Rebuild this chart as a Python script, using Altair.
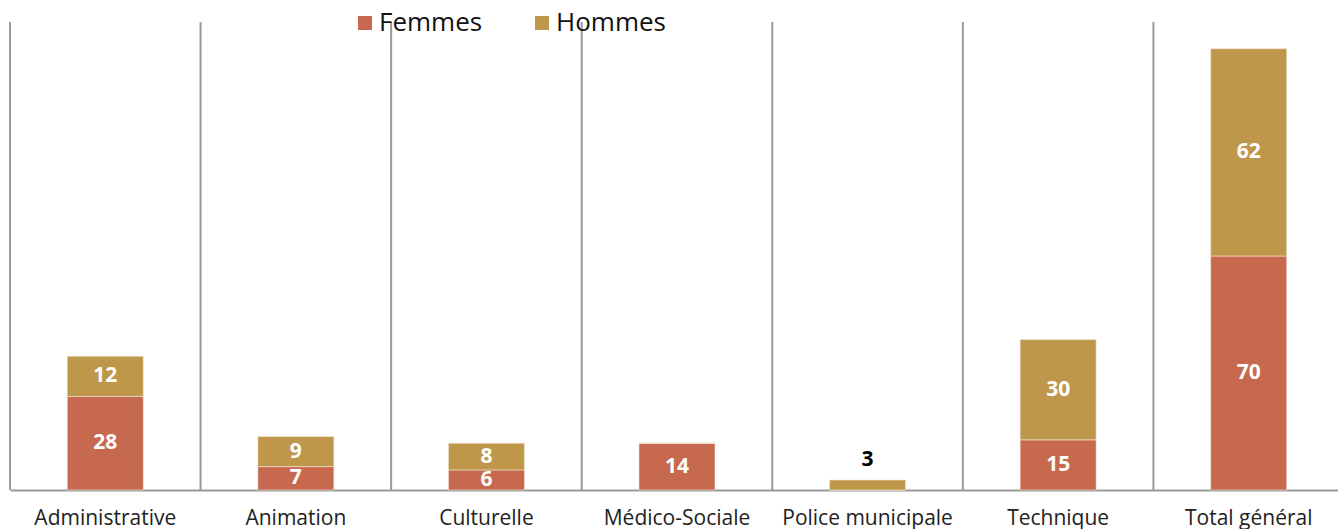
import altair as alt
import pandas as pd

categories = ["Administrative", "Animation", "Culturelle", "Médico-Sociale",
              "Police municipale", "Technique", "Total général"]
femmes = [28, 7, 6, 14, 0, 15, 70]
hommes = [12, 9, 8, 0, 3, 30, 62]
series = ["Femmes", "Hommes"]
colors = ["#C6694F", "#BF974B"]

rows = []
for c, f, h in zip(categories, femmes, hommes):
    rows.append({"cat": c, "sexe": "Femmes", "n": f, "ord": 0})
    rows.append({"cat": c, "sexe": "Hommes", "n": h, "ord": 1})
df = pd.DataFrame(rows)
cats_df = pd.DataFrame({"cat": categories})

FONT = "Open Sans"
xscale = alt.Scale(domain=categories, paddingInner=0, paddingOuter=0, range=[0, 1334])
yscale = alt.Scale(domain=[0, 140], nice=False, zero=True)

xaxis = alt.Axis(title=None, labelAngle=0, ticks=False, grid=False,
                 domainColor="#999999", domainWidth=2,
                 labelFontSize=21, labelColor="#222222", labelFont=FONT,
                 labelPadding=17)

base = alt.Chart(df).transform_stack(
    stack="n", groupby=["cat"], as_=["y0", "y1"], sort=[alt.SortField("ord")]
).transform_calculate(mid="(datum.y0 + datum.y1) / 2")

grid = alt.Chart(cats_df).mark_rule(color="#999999", strokeWidth=2).encode(
    x=alt.X("cat:N", sort=categories, scale=xscale, bandPosition=0, axis=xaxis),
    y=alt.value(0), y2=alt.value(468)
)

bars = base.mark_bar(size=76, stroke="#F2E6D8", strokeWidth=0.6).encode(
    x=alt.X("cat:N", sort=categories, scale=xscale, axis=xaxis),
    y=alt.Y("y0:Q", scale=yscale, axis=None),
    y2="y1:Q",
    color=alt.Color("sexe:N", scale=alt.Scale(domain=series, range=colors),
                    legend=alt.Legend(orient="none", legendX=342, legendY=-12,
                                      direction="horizontal", title=None,
                                      symbolType="square", symbolSize=196,
                                      symbolStrokeWidth=0,
                                      labelFontSize=26, labelFont=FONT,
                                      labelColor="#111111", labelOffset=1,
                                      columnPadding=46)),
)

labels_in = base.transform_filter("datum.n >= 5").mark_text(
    color="white", fontWeight="bold", fontSize=21, font=FONT, baseline="middle"
).encode(
    x=alt.X("cat:N", sort=categories, scale=xscale, axis=xaxis),
    y=alt.Y("mid:Q", scale=yscale, axis=None),
    text="n:Q",
)

labels_out = base.transform_filter("datum.n > 0 && datum.n < 5").mark_text(
    color="black", fontWeight="bold", fontSize=21, font=FONT, baseline="bottom", dy=-10
).encode(
    x=alt.X("cat:N", sort=categories, scale=xscale, axis=xaxis),
    y=alt.Y("y1:Q", scale=yscale, axis=None),
    text="n:Q",
)

chart = alt.layer(grid, bars, labels_in, labels_out).properties(
    width=1328, height=468,
    autosize=alt.AutoSizeParams(type="none"),
    padding={"left": 10, "top": 22, "right": 0, "bottom": 39},
    background="white",
).configure_view(stroke=None)

chart.save("out.html", embed_options={"renderer": "svg", "actions": False})
